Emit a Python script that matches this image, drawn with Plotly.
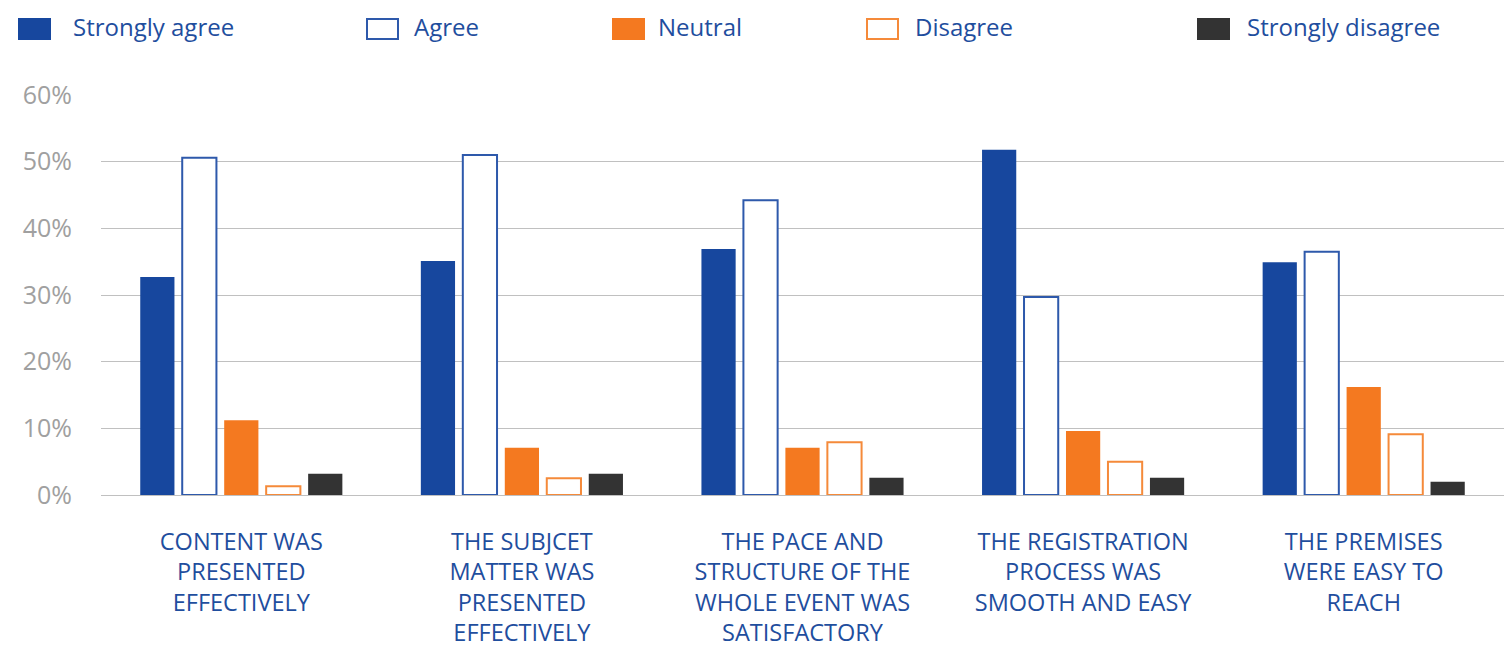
import plotly.graph_objects as go

# Survey statements (x categories)
statements = [
    "CONTENT WAS<br>PRESENTED<br>EFFECTIVELY",
    "THE SUBJCET<br>MATTER WAS<br>PRESENTED<br>EFFECTIVELY",
    "THE PACE AND<br>STRUCTURE OF THE<br>WHOLE EVENT WAS<br>SATISFACTORY",
    "THE REGISTRATION<br>PROCESS WAS<br>SMOOTH AND EASY",
    "THE PREMISES<br>WERE EASY TO<br>REACH",
]

# Share of responses per answer (%)
strongly_agree = [32.7, 35.1, 36.9, 51.8, 34.9]
agree = [50.6, 51.0, 44.2, 29.7, 36.5]
neutral = [11.2, 7.1, 7.1, 9.6, 16.2]
disagree = [1.3, 2.5, 7.9, 5.0, 9.1]
strongly_disagree = [3.2, 3.2, 2.6, 2.6, 2.0]

y_ticks = [0, 10, 20, 30, 40, 50, 60]
y_tick_labels = ["0%", "10%", "20%", "30%", "40%", "50%", "60%"]

BLUE = "#17479E"
BLUE_LINE = "#2E59AB"
ORANGE = "#F47920"
ORANGE_LINE = "#F58A3A"
DARK = "#333333"
TEXT_BLUE = "#1F4E9E"
GREY_TEXT = "#A0A0A0"
GRID = "#C0C0C0"

FONT = "Open Sans"

series = [
    ("Strongly agree", strongly_agree, BLUE, BLUE, 0),
    ("Agree", agree, "white", BLUE_LINE, 2),
    ("Neutral", neutral, ORANGE, ORANGE, 0),
    ("Disagree", disagree, "white", ORANGE_LINE, 2),
    ("Strongly disagree", strongly_disagree, DARK, DARK, 0),
]

fig = go.Figure()
for name, vals, fill, line, lw in series:
    fig.add_trace(go.Bar(
        name=name, x=statements, y=vals,
        marker=dict(color=fill, line=dict(color=line, width=lw)),
        showlegend=False,
    ))

# Page geometry in pixels
W_PX, H_PX = 1504, 647
L, R, T, B = 101, 0, 95, 152
plot_w = W_PX - L - R
plot_h = H_PX - T - B


def px_x(x):
    return (x - L) / plot_w


def px_y(y):
    return (H_PX - B - y) / plot_h


# Legend row drawn as swatches + labels
legend_items = [
    ("Strongly agree", 18, 73, BLUE, BLUE, 0),
    ("Agree", 366, 414, "white", BLUE_LINE, 2),
    ("Neutral", 612, 658, ORANGE, ORANGE, 0),
    ("Disagree", 866, 915, "white", ORANGE_LINE, 2),
    ("Strongly disagree", 1197, 1247, DARK, DARK, 0),
]
shapes = []
annotations = []
for label, sx, tx, fill, line, lw in legend_items:
    inset = lw / 2
    shapes.append(dict(
        type="rect", xref="paper", yref="paper",
        x0=px_x(sx + inset), x1=px_x(sx + 33 - inset),
        y0=px_y(40 - inset), y1=px_y(18 + inset),
        fillcolor=fill, line=dict(color=line, width=lw),
    ))
    annotations.append(dict(
        text=label, xref="paper", yref="paper",
        x=px_x(tx - 2), y=px_y(26.5), xanchor="left", yanchor="middle",
        showarrow=False, font=dict(family=FONT, size=24, color=TEXT_BLUE),
    ))

fig.update_layout(
    width=W_PX, height=H_PX,
    margin=dict(l=L, r=R, t=T, b=B, pad=0, autoexpand=False),
    paper_bgcolor="white", plot_bgcolor="white",
    barmode="group", bargap=0.252, bargroupgap=0.185,
    shapes=shapes, annotations=annotations,
    font=dict(family=FONT),
)
fig.update_xaxes(
    showgrid=False, showline=False, zeroline=False, automargin=False,
    tickfont=dict(family=FONT, size=23.5, color=TEXT_BLUE),
    ticks="", ticklabelstandoff=30,
)
fig.update_yaxes(
    range=[0, 60], tickmode="array", tickvals=y_ticks, ticktext=y_tick_labels,
    showgrid=True, gridcolor=GRID, gridwidth=1, automargin=False,
    zeroline=True, zerolinecolor=GRID, zerolinewidth=1,
    showline=False, ticks="", ticklabelstandoff=28,
    tickfont=dict(family=FONT, size=25, color=GREY_TEXT),
)

fig.write_html("out.html")
